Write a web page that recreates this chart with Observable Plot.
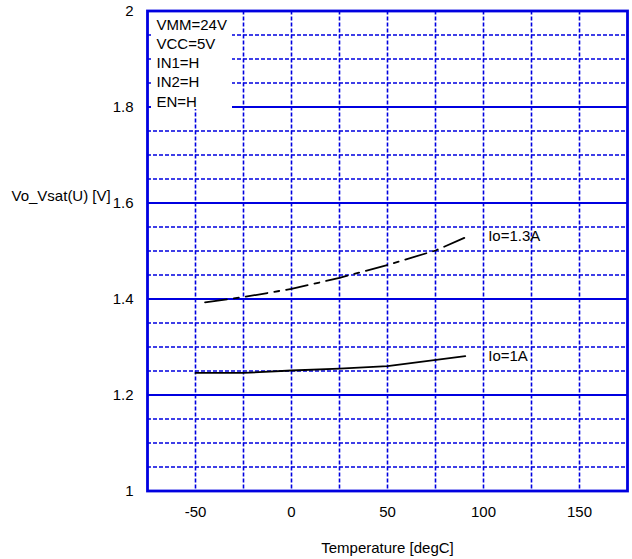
<!DOCTYPE html>
<html><head><meta charset="utf-8">
<script src="https://cdn.jsdelivr.net/npm/d3@7"></script>
<script src="https://cdn.jsdelivr.net/npm/@observablehq/plot@0.6"></script>
<style>body{margin:0;background:#fff;}</style>
</head><body><div id="chart"></div>
<script>
// Data
const temps1A = [-50, -25, 0, 25, 50, 90.5];
const vo1A = [1.246, 1.246, 1.251, 1.255, 1.260, 1.281];
const temps13A = [-45, -25, 0, 25, 50, 75, 92];
const vo13A = [1.393, 1.404, 1.421, 1.444, 1.471, 1.501, 1.531];
const seriesNames = ["Io=1A", "Io=1.3A"];
const conditions = ["VMM=24V", "VCC=5V", "IN1=H", "IN2=H", "EN=H"];
const xTicks = [-50, 0, 50, 100, 150];
const yTicks = [1, 1.2, 1.4, 1.6, 1.8, 2];
const xGrid = [-50, -25, 0, 25, 50, 75, 100, 125, 150];
const yMajorGrid = [1.2, 1.4, 1.6, 1.8];
const yMinorGrid = [1.05, 1.1, 1.15, 1.25, 1.3, 1.35, 1.45, 1.5, 1.55, 1.65, 1.7, 1.75, 1.85, 1.9, 1.95];
const xLabel = "Temperature [degC]";
const yLabel = "Vo_Vsat(U) [V]";

const d1A = temps1A.map((t, i) => ({t, v: vo1A[i]}));
const d13A = temps13A.map((t, i) => ({t, v: vo13A[i]}));
const end1A = [{name: seriesNames[0], t: temps1A[temps1A.length - 1], v: vo1A[vo1A.length - 1]}];
const end13A = [{name: seriesNames[1], t: temps13A[temps13A.length - 1], v: vo13A[vo13A.length - 1]}];

const blue = "#0000e0";
const font = "'Liberation Sans', Arial, sans-serif";
const fs = 15;

const boxMark = (index, scales, values, dims) => {
  const r = document.createElementNS("http://www.w3.org/2000/svg", "rect");
  r.setAttribute("x", dims.marginLeft + 4);
  r.setAttribute("y", dims.marginTop + 1.5);
  r.setAttribute("width", 81);
  r.setAttribute("height", 97);
  r.setAttribute("fill", "white");
  return r;
};

const plot = Plot.plot({
  width: 632,
  height: 559,
  marginLeft: 147,
  marginRight: 5,
  marginTop: 10.5,
  marginBottom: 68.5,
  style: {fontFamily: font, fontSize: fs + "px", color: "#000", background: "#fff"},
  x: {domain: [-75, 175]},
  y: {domain: [1, 2]},
  marks: [
    Plot.ruleX(xGrid, {stroke: blue, strokeWidth: 1.6, strokeDasharray: "4,2"}),
    Plot.ruleY(yMinorGrid, {stroke: blue, strokeWidth: 1.4, strokeDasharray: "4,2"}),
    Plot.ruleY(yMajorGrid, {stroke: blue, strokeWidth: 2}),
    boxMark,
    Plot.frame({stroke: blue, strokeWidth: 2.8}),
    Plot.axisX(xTicks, {tickSize: 0, tickPadding: 15, label: null, fontSize: fs, tickFormat: d => String(d)}),
    Plot.axisY(yTicks, {tickSize: 0, tickPadding: 14, label: null, fontSize: fs, tickFormat: d => String(d)}),
    Plot.line(d1A, {x: "t", y: "v", stroke: "black", strokeWidth: 1.8}),
    Plot.line(d13A, {x: "t", y: "v", stroke: "black", strokeWidth: 1.8, strokeDasharray: "22,7,5,7"}),
    Plot.text(end1A, {x: "t", y: "v", text: "name", dx: 23, textAnchor: "start", fontSize: fs}),
    Plot.text(end13A, {x: "t", y: "v", text: "name", dx: 20, textAnchor: "start", fontSize: fs}),
    Plot.text([conditions.join("\n")], {frameAnchor: "top-left", dx: 9, dy: 51, lineAnchor: "middle", lineHeight: 1.283, textAnchor: "start", fontSize: fs}),
    Plot.text([xLabel], {frameAnchor: "bottom", dy: 57.5, lineAnchor: "middle", fontSize: fs}),
    Plot.text([yLabel], {frameAnchor: "top-left", dx: -136, dy: 185, lineAnchor: "middle", textAnchor: "start", fontSize: fs})
  ]
});
document.getElementById("chart").appendChild(plot);
</script>
</body></html>
